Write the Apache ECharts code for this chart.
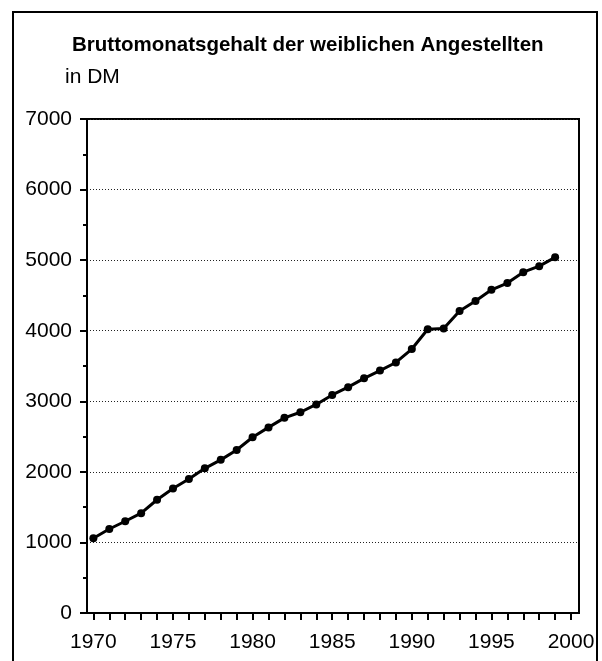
<!DOCTYPE html>
<html>
<head>
<meta charset="utf-8">
<script src="https://cdn.jsdelivr.net/npm/echarts@6/dist/echarts.min.js"></script>
<style>
html,body{margin:0;padding:0;background:#fff;}
#c{width:602px;height:661px;}
</style>
</head>
<body>
<div id="c"></div>
<script>
var titleText = "Bruttomonatsgehalt der weiblichen Angestellten";
var unitText = "in DM";
var years = [1970,1971,1972,1973,1974,1975,1976,1977,1978,1979,1980,1981,1982,1983,1984,1985,1986,1987,1988,1989,1990,1991,1992,1993,1994,1995,1996,1997,1998,1999];
var salary = [1060,1190,1300,1415,1605,1765,1900,2050,2170,2310,2490,2630,2765,2845,2955,3090,3200,3325,3435,3550,3740,4020,4030,4280,4420,4580,4675,4830,4915,5040];
var xTickYears = [1970,1971,1972,1973,1974,1975,1976,1977,1978,1979,1980,1981,1982,1983,1984,1985,1986,1987,1988,1989,1990,1991,1992,1993,1994,1995,1996,1997,1998,1999,2000];
var xLabelYears = [1970,1975,1980,1985,1990,1995,2000];

var pts = years.map(function(y,i){return [y, salary[i]];});
var chart = echarts.init(document.getElementById('c'));
var FONT = '"Liberation Sans", Arial, sans-serif';
chart.setOption({
  animation:false,
  backgroundColor:'#fff',
  textStyle:{fontFamily:FONT},
  title:[
    {text:titleText,left:67,top:30,textStyle:{fontFamily:FONT,fontWeight:'bold',fontSize:20.5,color:'#000'}},
    {text:unitText,left:60,top:62,textStyle:{fontFamily:FONT,fontWeight:'normal',fontSize:21,color:'#000'}}
  ],
  graphic:[
    {type:'polyline',shape:{points:[[13,700],[13,12],[597,12],[597,700]]},style:{stroke:'#000',lineWidth:2,fill:null},silent:true}
  ],
  grid:{left:87,top:119,width:492,height:494,show:true,borderColor:'#000',borderWidth:2,backgroundColor:'transparent'},
  xAxis:{
    type:'value',min:1969.6,max:2000.5,
    axisLine:{show:true,lineStyle:{color:'#000',width:2}},
    axisTick:{show:true,customValues:xTickYears,length:7,lineStyle:{color:'#000',width:2}},
    axisLabel:{show:true,customValues:xLabelYears,margin:19,fontSize:21,color:'#000',fontFamily:FONT,formatter:function(v){return String(Math.round(v));}},
    splitLine:{show:false}
  },
  yAxis:{
    type:'value',min:0,max:7000,interval:1000,
    axisLine:{show:true,lineStyle:{color:'#000',width:2}},
    axisTick:{show:true,length:7,lineStyle:{color:'#000',width:2}},
    minorTick:{show:true,splitNumber:2,length:4,lineStyle:{color:'#000',width:2}},
    axisLabel:{margin:15,fontSize:21,color:'#000',fontFamily:FONT,formatter:function(v){return String(v);}},
    splitLine:{show:true,lineStyle:{color:'#222',width:1,type:[1,2]}}
  },
  series:[{
    type:'line',data:pts,
    symbol:'circle',symbolSize:8,
    itemStyle:{color:'#000'},
    lineStyle:{color:'#000',width:3}
  }]
});
</script>
</body>
</html>
